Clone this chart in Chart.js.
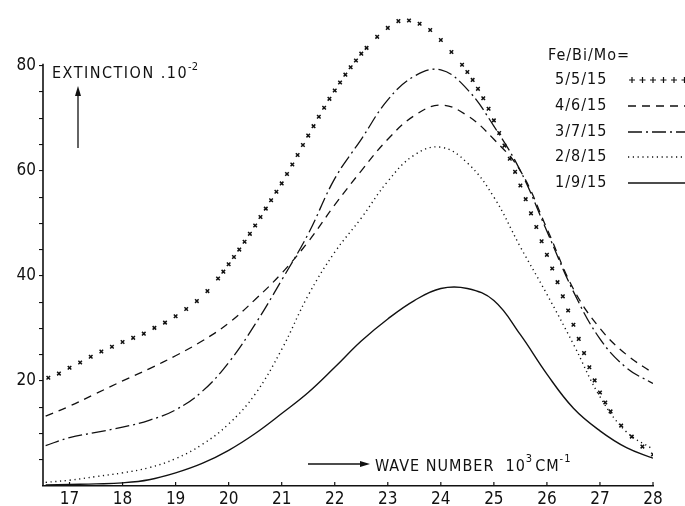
<!DOCTYPE html>
<html>
<head>
<meta charset="utf-8">
<script src="https://cdn.jsdelivr.net/npm/chart.js@4.4.1/dist/chart.umd.min.js"></script>
<style>
  html, body { margin: 0; padding: 0; background: #fff; }
  canvas { display: block; }
</style>
</head>
<body>
<canvas id="chart" width="685" height="506"></canvas>
<script>
// wave number (10^3 cm^-1) for the line curves
const lineX = [16.55, 17, 17.5, 18, 18.5, 19, 19.5, 20, 20.5, 21, 21.5, 22, 22.5, 23, 23.5, 24, 24.5, 25, 25.5, 26, 26.5, 27, 27.5, 28];
const ext46 = [13.3, 15.2, 17.6, 20.0, 22.3, 24.8, 27.6, 31.0, 35.5, 40.5, 46.5, 53.5, 60.0, 66.0, 70.5, 72.5, 70.5, 66.0, 60.0, 49.0, 37.5, 30.0, 25.0, 21.5];
const ext37 = [7.7, 9.2, 10.2, 11.2, 12.5, 14.5, 18.0, 23.5, 30.8, 39.2, 48.0, 58.5, 66.0, 73.5, 78.0, 79.2, 75.5, 68.5, 60.0, 48.5, 37.0, 28.0, 22.5, 19.5];
const ext28 = [0.7, 1.1, 1.8, 2.5, 3.5, 5.2, 7.9, 11.8, 17.5, 26.0, 36.3, 44.5, 51.0, 58.0, 63.0, 64.5, 61.5, 55.0, 45.5, 36.5, 27.0, 17.0, 10.3, 7.0];
const ext19 = [0.2, 0.3, 0.4, 0.6, 1.2, 2.5, 4.3, 6.8, 10.0, 13.8, 17.8, 22.6, 27.6, 31.8, 35.3, 37.6, 37.6, 35.3, 28.8, 21.3, 14.8, 10.5, 7.3, 5.3];

// 5/5/15 is drawn as crosses only
const crossX = [16.6, 16.8, 17.0, 17.2, 17.4, 17.6, 17.8, 18.0, 18.2, 18.4, 18.6, 18.8, 19.0, 19.2, 19.4, 19.6, 19.8,
  19.9, 20.0, 20.1, 20.2, 20.3, 20.4, 20.5, 20.6, 20.7, 20.8, 20.9, 21.0, 21.1, 21.2, 21.3, 21.4, 21.5, 21.6, 21.7, 21.8, 21.9,
  22.0, 22.1, 22.2, 22.3, 22.4, 22.5, 22.6, 22.8, 23.0, 23.2, 23.4, 23.6, 23.8, 24.0, 24.2, 24.4,
  24.5, 24.6, 24.7, 24.8, 24.9, 25.0, 25.1, 25.2, 25.3, 25.4, 25.5, 25.6, 25.7, 25.8, 25.9,
  26.0, 26.1, 26.2, 26.3, 26.4, 26.5, 26.6, 26.7, 26.8, 26.9, 27.0, 27.1, 27.2, 27.4, 27.6, 27.8, 28.0];
const ext55 = [20.6, 21.4, 22.5, 23.5, 24.6, 25.6, 26.5, 27.4, 28.2, 29.0, 30.1, 31.1, 32.3, 33.7, 35.2, 37.1, 39.5,
  40.8, 42.2, 43.6, 45.0, 46.5, 48.0, 49.6, 51.2, 52.8, 54.4, 56.0, 57.6, 59.4, 61.2, 63.0, 64.9, 66.7, 68.5, 70.3, 72.0, 73.7,
  75.3, 76.8, 78.3, 79.7, 81.0, 82.3, 83.4, 85.5, 87.2, 88.5, 88.6, 88.0, 86.8, 84.9, 82.6, 80.2,
  78.8, 77.3, 75.6, 73.8, 71.8, 69.6, 67.2, 64.8, 62.3, 59.8, 57.2, 54.6, 51.9, 49.3, 46.6,
  44.0, 41.4, 38.8, 36.1, 33.4, 30.7, 28.0, 25.3, 22.6, 20.1, 17.8, 15.9, 14.2, 11.5, 9.4, 7.5, 6.0];

const legendTitle = "Fe/Bi/Mo=";
const seriesNames = ["5/5/15", "4/6/15", "3/7/15", "2/8/15", "1/9/15"];
const xTickValues = [17, 18, 19, 20, 21, 22, 23, 24, 25, 26, 27, 28];
const yTickValues = [5, 10, 15, 20, 25, 30, 35, 40, 45, 50, 55, 60, 65, 70, 75, 80];
const yLabelValues = [20, 40, 60, 80];

const FONT = "'DejaVu Sans Condensed', 'Liberation Sans Narrow', sans-serif";
const INK = "#111";

function pts(xs, ys) {
  return xs.map((x, i) => ({ x: x, y: ys[i] }));
}

function lineSet(label, data, dash, width) {
  return {
    label: label,
    data: data,
    showLine: true,
    borderColor: INK,
    borderWidth: width,
    borderDash: dash,
    pointRadius: 0,
    tension: 0.4
  };
}

const datasets = [
  {
    label: seriesNames[0],
    data: pts(crossX, ext55),
    showLine: false,
    pointStyle: "crossRot",
    pointRadius: 2.5,
    borderColor: INK,
    borderWidth: 1.5
  },
  lineSet(seriesNames[1], pts(lineX, ext46), [8, 6], 1.3),
  lineSet(seriesNames[2], pts(lineX, ext37), [14, 4, 2, 4], 1.3),
  lineSet(seriesNames[3], pts(lineX, ext28), [1.2, 3.6], 1.4),
  lineSet(seriesNames[4], pts(lineX, ext19), [], 1.4)
];

function plus(ctx, x, y, r) {
  ctx.beginPath();
  ctx.moveTo(x - r, y); ctx.lineTo(x + r, y);
  ctx.moveTo(x, y - r); ctx.lineTo(x, y + r);
  ctx.stroke();
}

// axis line, inner x ticks, legend and the two axis captions
const decorations = {
  id: "decorations",
  afterDraw(chart) {
    const ctx = chart.ctx;
    const xs = chart.scales.x, ys = chart.scales.y;
    const area = chart.chartArea;
    ctx.save();
    ctx.strokeStyle = INK;
    ctx.fillStyle = INK;

    // y axis line runs only up to the 80 mark
    ctx.lineWidth = 1.6;
    ctx.beginPath();
    ctx.moveTo(area.left, ys.getPixelForValue(0));
    ctx.lineTo(area.left, ys.getPixelForValue(80) - 2);
    ctx.stroke();

    // x ticks point into the plot
    ctx.lineWidth = 1.2;
    xTickValues.forEach(v => {
      const px = xs.getPixelForValue(v);
      ctx.beginPath();
      ctx.moveTo(px, area.bottom);
      ctx.lineTo(px, area.bottom - 4);
      ctx.stroke();
    });

    // legend
    ctx.font = "16px " + FONT;
    ctx.textBaseline = "middle";
    ctx.textAlign = "left";
    ctx.letterSpacing = "1px";
    ctx.fillText(legendTitle, 548, 56);
    const rowY = [80, 106, 132, 157, 183];
    chart.data.datasets.forEach((ds, i) => {
      const y = rowY[i];
      ctx.fillText(ds.label, 555, y);
      if (i === 0) {
        ctx.lineWidth = 1.2;
        for (let k = 0; k < 6; k++) plus(ctx, 632 + k * 10.5, y, 3);
      } else {
        ctx.lineWidth = ds.borderWidth;
        ctx.setLineDash(ds.borderDash);
        ctx.beginPath();
        ctx.moveTo(628, y);
        ctx.lineTo(685, y);
        ctx.stroke();
        ctx.setLineDash([]);
      }
    });

    // y caption with upward arrow
    ctx.font = "16px " + FONT;
    ctx.letterSpacing = "1.5px";
    ctx.textBaseline = "alphabetic";
    ctx.fillText("EXTINCTION .10", 52, 78);
    let w = ctx.measureText("EXTINCTION .10").width;
    ctx.font = "11px " + FONT;
    ctx.letterSpacing = "0px";
    ctx.fillText("-2", 52 + w, 70);

    ctx.lineWidth = 1.3;
    ctx.beginPath();
    ctx.moveTo(78, 148);
    ctx.lineTo(78, 94);
    ctx.stroke();
    ctx.beginPath();
    ctx.moveTo(78, 86); ctx.lineTo(75, 96); ctx.lineTo(81, 96);
    ctx.closePath();
    ctx.fill();

    // x caption with right arrow
    ctx.beginPath();
    ctx.moveTo(308, 464);
    ctx.lineTo(362, 464);
    ctx.stroke();
    ctx.beginPath();
    ctx.moveTo(370, 464); ctx.lineTo(360, 461); ctx.lineTo(360, 467);
    ctx.closePath();
    ctx.fill();

    ctx.font = "16px " + FONT;
    ctx.letterSpacing = "1px";
    let x = 375;
    ctx.fillText("WAVE NUMBER  10", x, 471);
    x += ctx.measureText("WAVE NUMBER  10").width;
    ctx.font = "11px " + FONT;
    ctx.fillText("3", x, 462);
    x += ctx.measureText("3").width + 2;
    ctx.font = "16px " + FONT;
    ctx.fillText("CM", x, 471);
    x += ctx.measureText("CM").width;
    ctx.font = "11px " + FONT;
    ctx.fillText("-1", x, 462);
    ctx.restore();
  }
};

new Chart(document.getElementById("chart"), {
  type: "scatter",
  data: { datasets: datasets },
  options: {
    responsive: false,
    animation: false,
    devicePixelRatio: 1,
    layout: { padding: { top: 6, right: 32, left: 0, bottom: 0 } },
    plugins: {
      legend: { display: false },
      tooltip: { enabled: false }
    },
    scales: {
      x: {
        type: "linear",
        min: 16.5,
        max: 28,
        afterBuildTicks: axis => { axis.ticks = xTickValues.map(v => ({ value: v })); },
        afterFit: scale => { scale.height = 20; },
        border: { display: true, color: INK, width: 1.6 },
        grid: { display: true, drawOnChartArea: false, drawTicks: false, color: "rgba(0,0,0,0)" },
        ticks: {
          color: INK,
          padding: 3,
          maxRotation: 0,
          autoSkip: false,
          font: { family: FONT, size: 17 },
          callback: v => String(v)
        }
      },
      y: {
        type: "linear",
        min: 0,
        max: 90,
        afterBuildTicks: axis => { axis.ticks = yTickValues.map(v => ({ value: v })); },
        afterFit: scale => { scale.width = 43; },
        border: { display: false },
        grid: { display: true, drawOnChartArea: false, drawTicks: true, tickLength: 4, color: INK, lineWidth: 1.1 },
        ticks: {
          color: INK,
          padding: 3,
          autoSkip: false,
          font: { family: FONT, size: 17 },
          callback: v => (yLabelValues.includes(v) ? String(v) : "")
        }
      }
    }
  },
  plugins: [decorations]
});
</script>
</body>
</html>
